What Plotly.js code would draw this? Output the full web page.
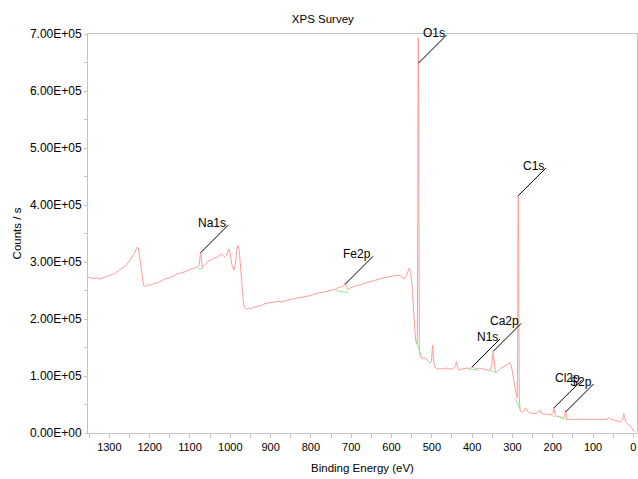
<!DOCTYPE html>
<html>
<head>
<meta charset="utf-8">
<script src="https://cdn.plot.ly/plotly-3.0.1.min.js"></script>
<style>html,body{margin:0;padding:0;background:#fff;}#chart{width:638px;height:479px;}</style>
</head>
<body>
<div id="chart"></div>
<script>
// Binding energy (eV) and counts/s of the survey spectrum
const bindingEnergy = [1355,1348,1340,1332,1325,1318,1310,1302,1295,1288,1280,1272,1265,1258,1250,1244,1238,1234,1231,1228,1225,1221,1218,1215,1210,1204,1198,1190,1182,1175,1168,1160,1152,1144,1136,1128,1120,1113,1105,1098,1090,1084,1080,1077,1074,1071,1069,1066,1060,1054,1047,1040,1033,1027,1022,1018,1014,1010,1006,1003,1000,996,991,987,984,981,978,974,970,967,964,960,955,950,944,937,930,922,914,906,898,890,882,874,869,862,855,848,840,832,825,818,810,802,795,786,778,770,762,755,748,740,732,725,719,715,712,708,704,698,690,682,675,668,661,654,646,638,630,622,614,606,598,591,584,578,572,568,564,560,556,552,548,545,542,540,538,536,535,534,533,532,531,529,526,522,516,510,505,501,498,496,493,488,482,476,471,465,460,454,446,441,439,436,432,426,418,412,406,400,394,388,382,376,371,365,359,355,351,348,345,342,338,334,330,322,316,310,307,304,300,297,293,290,288,287,286,285,284,283,281,279,275,271,268,265,260,254,247,241,236,232,229,222,215,210,205,200,197,194,190,185,180,175,171,168,165,162,155,145,135,125,115,105,95,85,75,68,63,60,57,52,45,38,31,27,24,22,19,15,10,5,1,-2];
const counts = [274000,272500,271000,272000,270000,271500,274000,276000,278000,279000,283000,286500,290000,295000,302000,308000,315000,322000,326000,325000,310000,285000,268000,258000,257000,260000,259000,262000,263000,266000,268000,271000,272000,275000,277000,280000,281000,283000,286000,287000,290000,291000,292000,295000,316000,300000,290000,293000,298000,302000,304000,307000,308000,312000,314000,312000,309000,312000,320000,323000,315000,295000,286000,298000,320000,329000,322000,285000,245000,225000,220000,217000,219000,218000,220000,221000,222000,224000,227000,228000,229000,229000,231000,230000,231000,233000,234000,235000,236000,237000,238000,238000,240000,241000,243000,245000,246000,247000,248000,250000,251000,252000,255000,256000,258000,263000,256000,251000,254000,256000,258000,259000,261000,262000,264000,265000,267000,268000,270000,272000,273000,274000,275000,276000,277000,276000,273000,270000,275000,284000,289000,280000,250000,210000,170000,162000,158000,155000,350000,694000,690000,400000,145000,136000,132000,131000,131000,127000,123000,125000,154000,130000,116000,113000,112000,113000,112000,114000,113000,112000,113000,118000,125000,115000,111000,112000,113000,114000,113000,116000,114000,112000,114000,113000,111000,111000,110000,111000,120000,142000,120000,106000,107000,110000,113000,116000,119000,122000,123000,120000,108000,93000,75000,65000,61000,150000,416000,410000,200000,60000,42000,38000,37000,39000,44000,40000,36000,35000,34000,34000,37000,40000,35000,33000,33000,32000,32000,35000,44000,32000,29000,29000,28000,27000,29000,40000,25000,23000,24000,24000,24000,24000,24000,24000,24000,23000,23000,24000,25000,27500,24000,23000,22000,21000,20000,23000,34000,30000,19000,17000,14000,10000,5000,2000];

// Background (quantification region) segments, null-separated
const bgEnergy = [1080,1068,null,740,707,null,541,525,null,413,384,null,355,338,null,293,280,null,205,193,null,185,164];
const bgCounts = [288000,289000,null,250000,246000,null,166000,133000,null,113000,110000,null,110000,106000,null,61000,39000,null,32000,27500,null,29000,23000];

// Peak labels: name, binding energy, count where the label line starts
const peakNames = ['Na1s','Fe2p','O1s','N1s','Ca2p','C1s','Cl2p','S2p'];
const peakEnergy = [1074,715,533,400,348,286,197,168];
const peakCounts = [316000,261000,649000,116000,143000,416000,44000,37000];

// Axis ticks
const yTickVals = [0,100000,200000,300000,400000,500000,600000,700000];
const yTickText = ['0.00E+00','1.00E+05','2.00E+05','3.00E+05','4.00E+05','5.00E+05','6.00E+05','7.00E+05'];
const xTickVals = [1300,1200,1100,1000,900,800,700,600,500,400,300,200,100,0];

const FONT = 'Liberation Sans, Arial, sans-serif';
const AXIS_COLOR = '#c4c4c4';

const traces = [
  {x: bindingEnergy, y: counts, type: 'scatter', mode: 'lines',
   line: {color: '#ff9c9c', width: 1}, hoverinfo: 'x+y'},
  {x: bgEnergy, y: bgCounts, type: 'scatter', mode: 'lines', connectgaps: false,
   line: {color: '#90ee90', width: 1}, hoverinfo: 'skip'}
];

const shapes = peakNames.map((n, i) => ({
  type: 'line', xref: 'x', yref: 'y',
  xsizemode: 'pixel', ysizemode: 'pixel',
  xanchor: peakEnergy[i], yanchor: peakCounts[i],
  x0: 0, x1: 28, y0: 0, y1: 28,
  line: {color: '#000000', width: 1}
}));

const annotations = peakNames.map((n, i) => ({
  x: peakEnergy[i], y: peakCounts[i], xref: 'x', yref: 'y',
  text: n, showarrow: false, xanchor: 'right', yanchor: 'middle',
  xshift: 28, yshift: 30,
  font: {family: FONT, size: 12, color: '#000000'}
}));

const layout = {
  width: 638, height: 479,
  margin: {l: 88, r: 1, t: 34, b: 46, pad: 0},
  paper_bgcolor: '#ffffff', plot_bgcolor: '#ffffff',
  showlegend: false,
  font: {family: FONT, color: '#000000'},
  title: {text: 'XPS Survey', x: 0.506, xref: 'container', xanchor: 'center',
          y: 0.961, yref: 'container', yanchor: 'middle',
          font: {family: FONT, size: 11.5, color: '#000000'}},
  xaxis: {
    range: [1353, -9], tickmode: 'array', tickvals: xTickVals,
    ticks: 'outside', ticklen: 4, tickwidth: 1, tickcolor: AXIS_COLOR,
    minor: {dtick: 50, tick0: 0, ticks: 'outside', ticklen: 4, tickcolor: AXIS_COLOR, showgrid: false},
    showline: true, linecolor: AXIS_COLOR, linewidth: 1, mirror: true,
    showgrid: false, zeroline: false,
    tickfont: {family: FONT, size: 11, color: '#000000'},
    title: {text: 'Binding Energy (eV)', standoff: 11, font: {family: FONT, size: 11.5, color: '#000000'}}
  },
  yaxis: {
    range: [0, 700000], tickmode: 'array', tickvals: yTickVals, ticktext: yTickText,
    ticks: 'outside', ticklen: 3, tickwidth: 1, tickcolor: AXIS_COLOR,
    minor: {dtick: 50000, tick0: 0, ticks: 'outside', ticklen: 3, tickcolor: AXIS_COLOR, showgrid: false},
    showline: true, linecolor: AXIS_COLOR, linewidth: 1, mirror: true,
    showgrid: false, zeroline: false,
    tickfont: {family: FONT, size: 12, color: '#000000'},
    title: {text: 'Counts / s', standoff: 5, font: {family: FONT, size: 11.5, color: '#000000'}}
  },
  shapes: shapes,
  annotations: annotations
};

Plotly.newPlot('chart', traces, layout, {displayModeBar: false, staticPlot: true});
</script>
</body>
</html>
